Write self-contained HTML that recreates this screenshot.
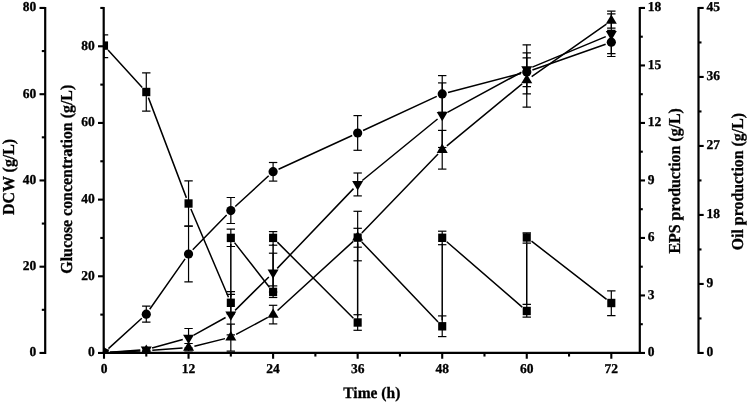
<!DOCTYPE html>
<html><head><meta charset="utf-8"><title>Fermentation time course</title>
<style>
html,body{margin:0;padding:0;background:#fff;}
body{width:749px;height:403px;overflow:hidden;}
svg{display:block;}
text{font-family:"Liberation Serif","DejaVu Serif",serif;font-weight:bold;fill:#000;text-rendering:geometricPrecision;}
.tk{font-size:13.5px;stroke:#000;stroke-width:0.3px;}
.tt{font-size:15.9px;stroke:#000;stroke-width:0.3px;}
</style></head><body>
<svg width="749" height="403" viewBox="0 0 749 403">
<defs><clipPath id="pc"><rect x="103.7" y="0" width="576.0999999999999" height="352.95"/></clipPath></defs>
<rect width="749" height="403" fill="#fff"/>
<line x1="45.20" y1="6.90" x2="45.20" y2="354.05" stroke="#000" stroke-width="2.2" />
<line x1="45.20" y1="352.95" x2="39.50" y2="352.95" stroke="#000" stroke-width="2.1" />
<text x="36.20" y="356.45" text-anchor="end" class="tk">0</text>
<line x1="45.20" y1="266.70" x2="39.50" y2="266.70" stroke="#000" stroke-width="2.1" />
<text x="36.20" y="270.20" text-anchor="end" class="tk">20</text>
<line x1="45.20" y1="180.45" x2="39.50" y2="180.45" stroke="#000" stroke-width="2.1" />
<text x="36.20" y="183.95" text-anchor="end" class="tk">40</text>
<line x1="45.20" y1="94.20" x2="39.50" y2="94.20" stroke="#000" stroke-width="2.1" />
<text x="36.20" y="97.70" text-anchor="end" class="tk">60</text>
<line x1="45.20" y1="7.95" x2="39.50" y2="7.95" stroke="#000" stroke-width="2.1" />
<text x="36.20" y="11.45" text-anchor="end" class="tk">80</text>
<line x1="45.20" y1="309.82" x2="41.80" y2="309.82" stroke="#000" stroke-width="2.1" />
<line x1="45.20" y1="223.57" x2="41.80" y2="223.57" stroke="#000" stroke-width="2.1" />
<line x1="45.20" y1="137.32" x2="41.80" y2="137.32" stroke="#000" stroke-width="2.1" />
<line x1="45.20" y1="51.07" x2="41.80" y2="51.07" stroke="#000" stroke-width="2.1" />
<line x1="103.70" y1="6.90" x2="103.70" y2="354.05" stroke="#000" stroke-width="2.2" />
<line x1="103.70" y1="352.95" x2="98.00" y2="352.95" stroke="#000" stroke-width="2.1" />
<text x="94.70" y="356.45" text-anchor="end" class="tk">0</text>
<line x1="103.70" y1="276.28" x2="98.00" y2="276.28" stroke="#000" stroke-width="2.1" />
<text x="94.70" y="279.78" text-anchor="end" class="tk">20</text>
<line x1="103.70" y1="199.62" x2="98.00" y2="199.62" stroke="#000" stroke-width="2.1" />
<text x="94.70" y="203.12" text-anchor="end" class="tk">40</text>
<line x1="103.70" y1="122.95" x2="98.00" y2="122.95" stroke="#000" stroke-width="2.1" />
<text x="94.70" y="126.45" text-anchor="end" class="tk">60</text>
<line x1="103.70" y1="46.28" x2="98.00" y2="46.28" stroke="#000" stroke-width="2.1" />
<text x="94.70" y="49.78" text-anchor="end" class="tk">80</text>
<line x1="103.70" y1="314.62" x2="100.30" y2="314.62" stroke="#000" stroke-width="2.1" />
<line x1="103.70" y1="237.95" x2="100.30" y2="237.95" stroke="#000" stroke-width="2.1" />
<line x1="103.70" y1="161.28" x2="100.30" y2="161.28" stroke="#000" stroke-width="2.1" />
<line x1="103.70" y1="84.62" x2="100.30" y2="84.62" stroke="#000" stroke-width="2.1" />
<line x1="103.70" y1="7.95" x2="100.30" y2="7.95" stroke="#000" stroke-width="2.1" />
<line x1="639.80" y1="6.90" x2="639.80" y2="354.05" stroke="#000" stroke-width="2.2" />
<line x1="639.80" y1="352.95" x2="645.00" y2="352.95" stroke="#000" stroke-width="2.1" />
<text x="647.80" y="356.45" text-anchor="start" class="tk">0</text>
<line x1="639.80" y1="295.45" x2="645.00" y2="295.45" stroke="#000" stroke-width="2.1" />
<text x="647.80" y="298.95" text-anchor="start" class="tk">3</text>
<line x1="639.80" y1="237.95" x2="645.00" y2="237.95" stroke="#000" stroke-width="2.1" />
<text x="647.80" y="241.45" text-anchor="start" class="tk">6</text>
<line x1="639.80" y1="180.45" x2="645.00" y2="180.45" stroke="#000" stroke-width="2.1" />
<text x="647.80" y="183.95" text-anchor="start" class="tk">9</text>
<line x1="639.80" y1="122.95" x2="645.00" y2="122.95" stroke="#000" stroke-width="2.1" />
<text x="647.80" y="126.45" text-anchor="start" class="tk">12</text>
<line x1="639.80" y1="65.45" x2="645.00" y2="65.45" stroke="#000" stroke-width="2.1" />
<text x="647.80" y="68.95" text-anchor="start" class="tk">15</text>
<line x1="639.80" y1="7.95" x2="645.00" y2="7.95" stroke="#000" stroke-width="2.1" />
<text x="647.80" y="11.45" text-anchor="start" class="tk">18</text>
<line x1="639.80" y1="324.20" x2="642.80" y2="324.20" stroke="#000" stroke-width="2.1" />
<line x1="639.80" y1="266.70" x2="642.80" y2="266.70" stroke="#000" stroke-width="2.1" />
<line x1="639.80" y1="209.20" x2="642.80" y2="209.20" stroke="#000" stroke-width="2.1" />
<line x1="639.80" y1="151.70" x2="642.80" y2="151.70" stroke="#000" stroke-width="2.1" />
<line x1="639.80" y1="94.20" x2="642.80" y2="94.20" stroke="#000" stroke-width="2.1" />
<line x1="639.80" y1="36.70" x2="642.80" y2="36.70" stroke="#000" stroke-width="2.1" />
<line x1="698.50" y1="6.90" x2="698.50" y2="354.05" stroke="#000" stroke-width="2.2" />
<line x1="698.50" y1="352.95" x2="703.70" y2="352.95" stroke="#000" stroke-width="2.1" />
<text x="706.50" y="356.45" text-anchor="start" class="tk">0</text>
<line x1="698.50" y1="283.95" x2="703.70" y2="283.95" stroke="#000" stroke-width="2.1" />
<text x="706.50" y="287.45" text-anchor="start" class="tk">9</text>
<line x1="698.50" y1="214.95" x2="703.70" y2="214.95" stroke="#000" stroke-width="2.1" />
<text x="706.50" y="218.45" text-anchor="start" class="tk">18</text>
<line x1="698.50" y1="145.95" x2="703.70" y2="145.95" stroke="#000" stroke-width="2.1" />
<text x="706.50" y="149.45" text-anchor="start" class="tk">27</text>
<line x1="698.50" y1="76.95" x2="703.70" y2="76.95" stroke="#000" stroke-width="2.1" />
<text x="706.50" y="80.45" text-anchor="start" class="tk">36</text>
<line x1="698.50" y1="7.95" x2="703.70" y2="7.95" stroke="#000" stroke-width="2.1" />
<text x="706.50" y="11.45" text-anchor="start" class="tk">45</text>
<line x1="698.50" y1="318.45" x2="701.50" y2="318.45" stroke="#000" stroke-width="2.1" />
<line x1="698.50" y1="249.45" x2="701.50" y2="249.45" stroke="#000" stroke-width="2.1" />
<line x1="698.50" y1="180.45" x2="701.50" y2="180.45" stroke="#000" stroke-width="2.1" />
<line x1="698.50" y1="111.45" x2="701.50" y2="111.45" stroke="#000" stroke-width="2.1" />
<line x1="698.50" y1="42.45" x2="701.50" y2="42.45" stroke="#000" stroke-width="2.1" />
<line x1="102.60" y1="352.95" x2="640.90" y2="352.95" stroke="#000" stroke-width="2.2" />
<line x1="104.00" y1="352.95" x2="104.00" y2="358.75" stroke="#000" stroke-width="2.1" />
<text x="104.00" y="372.65" text-anchor="middle" class="tk">0</text>
<line x1="188.55" y1="352.95" x2="188.55" y2="358.75" stroke="#000" stroke-width="2.1" />
<text x="188.55" y="372.65" text-anchor="middle" class="tk">12</text>
<line x1="273.10" y1="352.95" x2="273.10" y2="358.75" stroke="#000" stroke-width="2.1" />
<text x="273.10" y="372.65" text-anchor="middle" class="tk">24</text>
<line x1="357.66" y1="352.95" x2="357.66" y2="358.75" stroke="#000" stroke-width="2.1" />
<text x="357.66" y="372.65" text-anchor="middle" class="tk">36</text>
<line x1="442.21" y1="352.95" x2="442.21" y2="358.75" stroke="#000" stroke-width="2.1" />
<text x="442.21" y="372.65" text-anchor="middle" class="tk">48</text>
<line x1="526.76" y1="352.95" x2="526.76" y2="358.75" stroke="#000" stroke-width="2.1" />
<text x="526.76" y="372.65" text-anchor="middle" class="tk">60</text>
<line x1="611.31" y1="352.95" x2="611.31" y2="358.75" stroke="#000" stroke-width="2.1" />
<text x="611.31" y="372.65" text-anchor="middle" class="tk">72</text>
<line x1="146.28" y1="352.95" x2="146.28" y2="356.55" stroke="#000" stroke-width="2.1" />
<line x1="230.83" y1="352.95" x2="230.83" y2="356.55" stroke="#000" stroke-width="2.1" />
<line x1="315.38" y1="352.95" x2="315.38" y2="356.55" stroke="#000" stroke-width="2.1" />
<line x1="399.93" y1="352.95" x2="399.93" y2="356.55" stroke="#000" stroke-width="2.1" />
<line x1="484.48" y1="352.95" x2="484.48" y2="356.55" stroke="#000" stroke-width="2.1" />
<line x1="569.04" y1="352.95" x2="569.04" y2="356.55" stroke="#000" stroke-width="2.1" />
<text transform="translate(13.6,176.9) rotate(-90) scale(1,1.05)" text-anchor="middle" class="tt">DCW (g/L)</text>
<text transform="translate(72.0,179.25) rotate(-90) scale(1,1.05)" text-anchor="middle" class="tt">Glucose concentration (g/L)</text>
<text transform="translate(680,180.8) rotate(-90) scale(1,1.05)" text-anchor="middle" class="tt">EPS production (g/L)</text>
<text transform="translate(743.1,181.6) rotate(-90) scale(1,1.05)" text-anchor="middle" class="tt">Oil production (g/L)</text>
<text transform="translate(371.8,398.1) scale(1,1.03)" text-anchor="middle" class="tt" style="font-size:15.5px">Time (h)</text>
<g clip-path="url(#pc)">
<path d="M108.04 50.04L142.24 87.56M148.40 97.61L186.42 197.89M190.90 209.02L228.48 297.28M230.83 296.80L230.83 243.90M234.53 242.62L269.41 287.18M273.10 285.90L273.10 243.90M277.35 242.14L353.41 318.26M357.66 316.50L357.66 243.60M361.80 241.94L438.07 321.96M442.21 320.30L442.21 243.80M446.74 241.73L522.22 307.07M526.76 305.00L526.76 243.45M531.50 241.13L606.57 299.32" fill="none" stroke="#000" stroke-width="1.5"/>
<line x1="104.00" y1="34.90" x2="104.00" y2="57.70" stroke="#000" stroke-width="1.2" />
<line x1="99.80" y1="34.90" x2="108.20" y2="34.90" stroke="#000" stroke-width="1.2" />
<line x1="99.80" y1="57.70" x2="108.20" y2="57.70" stroke="#000" stroke-width="1.2" />
<line x1="146.28" y1="72.90" x2="146.28" y2="111.10" stroke="#000" stroke-width="1.2" />
<line x1="142.08" y1="72.90" x2="150.48" y2="72.90" stroke="#000" stroke-width="1.2" />
<line x1="142.08" y1="111.10" x2="150.48" y2="111.10" stroke="#000" stroke-width="1.2" />
<line x1="188.55" y1="180.90" x2="188.55" y2="226.20" stroke="#000" stroke-width="1.2" />
<line x1="184.35" y1="180.90" x2="192.75" y2="180.90" stroke="#000" stroke-width="1.2" />
<line x1="184.35" y1="226.20" x2="192.75" y2="226.20" stroke="#000" stroke-width="1.2" />
<line x1="230.83" y1="291.70" x2="230.83" y2="313.80" stroke="#000" stroke-width="1.2" />
<line x1="226.63" y1="291.70" x2="235.03" y2="291.70" stroke="#000" stroke-width="1.2" />
<line x1="226.63" y1="313.80" x2="235.03" y2="313.80" stroke="#000" stroke-width="1.2" />
<line x1="230.83" y1="229.10" x2="230.83" y2="246.50" stroke="#000" stroke-width="1.2" />
<line x1="226.63" y1="229.10" x2="235.03" y2="229.10" stroke="#000" stroke-width="1.2" />
<line x1="226.63" y1="246.50" x2="235.03" y2="246.50" stroke="#000" stroke-width="1.2" />
<line x1="273.10" y1="285.90" x2="273.10" y2="297.50" stroke="#000" stroke-width="1.2" />
<line x1="268.90" y1="285.90" x2="277.30" y2="285.90" stroke="#000" stroke-width="1.2" />
<line x1="268.90" y1="297.50" x2="277.30" y2="297.50" stroke="#000" stroke-width="1.2" />
<line x1="273.10" y1="231.60" x2="273.10" y2="245.20" stroke="#000" stroke-width="1.2" />
<line x1="268.90" y1="231.60" x2="277.30" y2="231.60" stroke="#000" stroke-width="1.2" />
<line x1="268.90" y1="245.20" x2="277.30" y2="245.20" stroke="#000" stroke-width="1.2" />
<line x1="357.66" y1="314.70" x2="357.66" y2="330.30" stroke="#000" stroke-width="1.2" />
<line x1="353.46" y1="314.70" x2="361.86" y2="314.70" stroke="#000" stroke-width="1.2" />
<line x1="353.46" y1="330.30" x2="361.86" y2="330.30" stroke="#000" stroke-width="1.2" />
<line x1="357.66" y1="228.30" x2="357.66" y2="247.20" stroke="#000" stroke-width="1.2" />
<line x1="353.46" y1="228.30" x2="361.86" y2="228.30" stroke="#000" stroke-width="1.2" />
<line x1="353.46" y1="247.20" x2="361.86" y2="247.20" stroke="#000" stroke-width="1.2" />
<line x1="442.21" y1="315.90" x2="442.21" y2="336.60" stroke="#000" stroke-width="1.2" />
<line x1="438.01" y1="315.90" x2="446.41" y2="315.90" stroke="#000" stroke-width="1.2" />
<line x1="438.01" y1="336.60" x2="446.41" y2="336.60" stroke="#000" stroke-width="1.2" />
<line x1="442.21" y1="231.20" x2="442.21" y2="244.70" stroke="#000" stroke-width="1.2" />
<line x1="438.01" y1="231.20" x2="446.41" y2="231.20" stroke="#000" stroke-width="1.2" />
<line x1="438.01" y1="244.70" x2="446.41" y2="244.70" stroke="#000" stroke-width="1.2" />
<line x1="526.76" y1="304.40" x2="526.76" y2="317.10" stroke="#000" stroke-width="1.2" />
<line x1="522.56" y1="304.40" x2="530.96" y2="304.40" stroke="#000" stroke-width="1.2" />
<line x1="522.56" y1="317.10" x2="530.96" y2="317.10" stroke="#000" stroke-width="1.2" />
<line x1="526.76" y1="232.90" x2="526.76" y2="243.20" stroke="#000" stroke-width="1.2" />
<line x1="522.56" y1="232.90" x2="530.96" y2="232.90" stroke="#000" stroke-width="1.2" />
<line x1="522.56" y1="243.20" x2="530.96" y2="243.20" stroke="#000" stroke-width="1.2" />
<line x1="611.31" y1="290.90" x2="611.31" y2="315.60" stroke="#000" stroke-width="1.2" />
<line x1="607.11" y1="290.90" x2="615.51" y2="290.90" stroke="#000" stroke-width="1.2" />
<line x1="607.11" y1="315.60" x2="615.51" y2="315.60" stroke="#000" stroke-width="1.2" />
<rect x="99.95" y="41.40" width="8.1" height="8.4" fill="#000"/>
<rect x="142.23" y="87.80" width="8.1" height="8.4" fill="#000"/>
<rect x="184.50" y="199.30" width="8.1" height="8.4" fill="#000"/>
<rect x="226.78" y="298.60" width="8.1" height="8.4" fill="#000"/>
<rect x="226.78" y="233.70" width="8.1" height="8.4" fill="#000"/>
<rect x="269.05" y="287.70" width="8.1" height="8.4" fill="#000"/>
<rect x="269.05" y="233.70" width="8.1" height="8.4" fill="#000"/>
<rect x="353.61" y="318.30" width="8.1" height="8.4" fill="#000"/>
<rect x="353.61" y="233.40" width="8.1" height="8.4" fill="#000"/>
<rect x="438.16" y="322.10" width="8.1" height="8.4" fill="#000"/>
<rect x="438.16" y="233.60" width="8.1" height="8.4" fill="#000"/>
<rect x="522.71" y="306.80" width="8.1" height="8.4" fill="#000"/>
<rect x="522.71" y="233.25" width="8.1" height="8.4" fill="#000"/>
<rect x="607.26" y="298.80" width="8.1" height="8.4" fill="#000"/>
<path d="M108.44 348.57L141.83 318.23M149.72 309.29L185.10 258.91M192.74 249.70L226.64 214.90M235.24 206.54L268.69 175.76M278.56 169.20L352.20 135.50M363.10 130.48L436.76 96.42M448.02 92.40L520.95 73.50M532.42 70.01L605.65 44.19" fill="none" stroke="#000" stroke-width="1.5"/>
<line x1="146.28" y1="306.10" x2="146.28" y2="322.20" stroke="#000" stroke-width="1.2" />
<line x1="142.08" y1="306.10" x2="150.48" y2="306.10" stroke="#000" stroke-width="1.2" />
<line x1="142.08" y1="322.20" x2="150.48" y2="322.20" stroke="#000" stroke-width="1.2" />
<line x1="188.55" y1="226.20" x2="188.55" y2="281.90" stroke="#000" stroke-width="1.2" />
<line x1="184.35" y1="226.20" x2="192.75" y2="226.20" stroke="#000" stroke-width="1.2" />
<line x1="184.35" y1="281.90" x2="192.75" y2="281.90" stroke="#000" stroke-width="1.2" />
<line x1="230.83" y1="197.50" x2="230.83" y2="223.50" stroke="#000" stroke-width="1.2" />
<line x1="226.63" y1="197.50" x2="235.03" y2="197.50" stroke="#000" stroke-width="1.2" />
<line x1="226.63" y1="223.50" x2="235.03" y2="223.50" stroke="#000" stroke-width="1.2" />
<line x1="273.10" y1="162.50" x2="273.10" y2="181.10" stroke="#000" stroke-width="1.2" />
<line x1="268.90" y1="162.50" x2="277.30" y2="162.50" stroke="#000" stroke-width="1.2" />
<line x1="268.90" y1="181.10" x2="277.30" y2="181.10" stroke="#000" stroke-width="1.2" />
<line x1="357.66" y1="115.60" x2="357.66" y2="150.30" stroke="#000" stroke-width="1.2" />
<line x1="353.46" y1="115.60" x2="361.86" y2="115.60" stroke="#000" stroke-width="1.2" />
<line x1="353.46" y1="150.30" x2="361.86" y2="150.30" stroke="#000" stroke-width="1.2" />
<line x1="442.21" y1="75.60" x2="442.21" y2="112.20" stroke="#000" stroke-width="1.2" />
<line x1="438.01" y1="75.60" x2="446.41" y2="75.60" stroke="#000" stroke-width="1.2" />
<line x1="438.01" y1="112.20" x2="446.41" y2="112.20" stroke="#000" stroke-width="1.2" />
<line x1="526.76" y1="57.80" x2="526.76" y2="86.60" stroke="#000" stroke-width="1.2" />
<line x1="522.56" y1="57.80" x2="530.96" y2="57.80" stroke="#000" stroke-width="1.2" />
<line x1="522.56" y1="86.60" x2="530.96" y2="86.60" stroke="#000" stroke-width="1.2" />
<line x1="611.31" y1="30.30" x2="611.31" y2="53.60" stroke="#000" stroke-width="1.2" />
<line x1="607.11" y1="30.30" x2="615.51" y2="30.30" stroke="#000" stroke-width="1.2" />
<line x1="607.11" y1="53.60" x2="615.51" y2="53.60" stroke="#000" stroke-width="1.2" />
<circle cx="104.00" cy="352.60" r="4.6" fill="#000"/>
<circle cx="146.28" cy="314.20" r="4.6" fill="#000"/>
<circle cx="188.55" cy="254.00" r="4.6" fill="#000"/>
<circle cx="230.83" cy="210.60" r="4.6" fill="#000"/>
<circle cx="273.10" cy="171.70" r="4.6" fill="#000"/>
<circle cx="357.66" cy="133.00" r="4.6" fill="#000"/>
<circle cx="442.21" cy="93.90" r="4.6" fill="#000"/>
<circle cx="526.76" cy="72.00" r="4.6" fill="#000"/>
<circle cx="611.31" cy="42.20" r="4.6" fill="#000"/>
<path d="M109.99 352.32L140.28 350.88M152.26 350.18L182.57 348.02M194.38 346.17L225.00 338.63M236.12 334.37L267.81 317.43M277.53 310.55L353.23 241.35M361.82 232.98L438.04 154.02M446.84 145.88L522.13 83.82M531.67 76.55L606.40 24.05" fill="none" stroke="#000" stroke-width="1.5"/>
<line x1="146.28" y1="350.00" x2="146.28" y2="351.00" stroke="#000" stroke-width="1.2" />
<line x1="142.08" y1="350.00" x2="150.48" y2="350.00" stroke="#000" stroke-width="1.2" />
<line x1="142.08" y1="351.00" x2="150.48" y2="351.00" stroke="#000" stroke-width="1.2" />
<line x1="188.55" y1="343.50" x2="188.55" y2="351.00" stroke="#000" stroke-width="1.2" />
<line x1="184.35" y1="343.50" x2="192.75" y2="343.50" stroke="#000" stroke-width="1.2" />
<line x1="184.35" y1="351.00" x2="192.75" y2="351.00" stroke="#000" stroke-width="1.2" />
<line x1="230.83" y1="324.20" x2="230.83" y2="351.10" stroke="#000" stroke-width="1.2" />
<line x1="226.63" y1="324.20" x2="235.03" y2="324.20" stroke="#000" stroke-width="1.2" />
<line x1="226.63" y1="351.10" x2="235.03" y2="351.10" stroke="#000" stroke-width="1.2" />
<line x1="273.10" y1="305.30" x2="273.10" y2="323.90" stroke="#000" stroke-width="1.2" />
<line x1="268.90" y1="305.30" x2="277.30" y2="305.30" stroke="#000" stroke-width="1.2" />
<line x1="268.90" y1="323.90" x2="277.30" y2="323.90" stroke="#000" stroke-width="1.2" />
<line x1="357.66" y1="211.30" x2="357.66" y2="260.80" stroke="#000" stroke-width="1.2" />
<line x1="353.46" y1="211.30" x2="361.86" y2="211.30" stroke="#000" stroke-width="1.2" />
<line x1="353.46" y1="260.80" x2="361.86" y2="260.80" stroke="#000" stroke-width="1.2" />
<line x1="442.21" y1="130.40" x2="442.21" y2="169.10" stroke="#000" stroke-width="1.2" />
<line x1="438.01" y1="130.40" x2="446.41" y2="130.40" stroke="#000" stroke-width="1.2" />
<line x1="438.01" y1="169.10" x2="446.41" y2="169.10" stroke="#000" stroke-width="1.2" />
<line x1="526.76" y1="52.90" x2="526.76" y2="107.20" stroke="#000" stroke-width="1.2" />
<line x1="522.56" y1="52.90" x2="530.96" y2="52.90" stroke="#000" stroke-width="1.2" />
<line x1="522.56" y1="107.20" x2="530.96" y2="107.20" stroke="#000" stroke-width="1.2" />
<line x1="611.31" y1="13.90" x2="611.31" y2="28.20" stroke="#000" stroke-width="1.2" />
<line x1="607.11" y1="13.90" x2="615.51" y2="13.90" stroke="#000" stroke-width="1.2" />
<line x1="607.11" y1="28.20" x2="615.51" y2="28.20" stroke="#000" stroke-width="1.2" />
<polygon points="104.00,346.50 98.50,355.80 109.50,355.80" fill="#000"/>
<polygon points="146.28,344.50 140.78,353.80 151.78,353.80" fill="#000"/>
<polygon points="188.55,341.50 183.05,350.80 194.05,350.80" fill="#000"/>
<polygon points="230.83,331.10 225.33,340.40 236.33,340.40" fill="#000"/>
<polygon points="273.10,308.50 267.60,317.80 278.60,317.80" fill="#000"/>
<polygon points="357.66,231.20 352.16,240.50 363.16,240.50" fill="#000"/>
<polygon points="442.21,143.60 436.71,152.90 447.71,152.90" fill="#000"/>
<polygon points="526.76,73.90 521.26,83.20 532.26,83.20" fill="#000"/>
<polygon points="611.31,14.50 605.81,23.80 616.81,23.80" fill="#000"/>
<path d="M109.98 352.18L140.29 350.02M152.06 348.01L182.77 339.59M193.80 335.09L225.58 317.51M235.09 310.38L268.84 276.92M277.25 268.36L353.51 188.64M362.30 180.50L437.56 119.00M447.48 112.34L521.48 72.26M532.30 67.10L605.77 36.60" fill="none" stroke="#000" stroke-width="1.5"/>
<line x1="146.28" y1="348.00" x2="146.28" y2="351.00" stroke="#000" stroke-width="1.2" />
<line x1="142.08" y1="348.00" x2="150.48" y2="348.00" stroke="#000" stroke-width="1.2" />
<line x1="142.08" y1="351.00" x2="150.48" y2="351.00" stroke="#000" stroke-width="1.2" />
<line x1="188.55" y1="328.50" x2="188.55" y2="348.00" stroke="#000" stroke-width="1.2" />
<line x1="184.35" y1="328.50" x2="192.75" y2="328.50" stroke="#000" stroke-width="1.2" />
<line x1="184.35" y1="348.00" x2="192.75" y2="348.00" stroke="#000" stroke-width="1.2" />
<line x1="230.83" y1="294.30" x2="230.83" y2="334.90" stroke="#000" stroke-width="1.2" />
<line x1="226.63" y1="294.30" x2="235.03" y2="294.30" stroke="#000" stroke-width="1.2" />
<line x1="226.63" y1="334.90" x2="235.03" y2="334.90" stroke="#000" stroke-width="1.2" />
<line x1="273.10" y1="253.20" x2="273.10" y2="292.00" stroke="#000" stroke-width="1.2" />
<line x1="268.90" y1="253.20" x2="277.30" y2="253.20" stroke="#000" stroke-width="1.2" />
<line x1="268.90" y1="292.00" x2="277.30" y2="292.00" stroke="#000" stroke-width="1.2" />
<line x1="357.66" y1="173.00" x2="357.66" y2="195.90" stroke="#000" stroke-width="1.2" />
<line x1="353.46" y1="173.00" x2="361.86" y2="173.00" stroke="#000" stroke-width="1.2" />
<line x1="353.46" y1="195.90" x2="361.86" y2="195.90" stroke="#000" stroke-width="1.2" />
<line x1="442.21" y1="82.90" x2="442.21" y2="147.50" stroke="#000" stroke-width="1.2" />
<line x1="438.01" y1="82.90" x2="446.41" y2="82.90" stroke="#000" stroke-width="1.2" />
<line x1="438.01" y1="147.50" x2="446.41" y2="147.50" stroke="#000" stroke-width="1.2" />
<line x1="526.76" y1="44.80" x2="526.76" y2="93.90" stroke="#000" stroke-width="1.2" />
<line x1="522.56" y1="44.80" x2="530.96" y2="44.80" stroke="#000" stroke-width="1.2" />
<line x1="522.56" y1="93.90" x2="530.96" y2="93.90" stroke="#000" stroke-width="1.2" />
<line x1="611.31" y1="11.20" x2="611.31" y2="56.50" stroke="#000" stroke-width="1.2" />
<line x1="607.11" y1="11.20" x2="615.51" y2="11.20" stroke="#000" stroke-width="1.2" />
<line x1="607.11" y1="56.50" x2="615.51" y2="56.50" stroke="#000" stroke-width="1.2" />
<polygon points="104.00,358.70 98.50,349.40 109.50,349.40" fill="#000"/>
<polygon points="146.28,355.70 140.78,346.40 151.78,346.40" fill="#000"/>
<polygon points="188.55,344.10 183.05,334.80 194.05,334.80" fill="#000"/>
<polygon points="230.83,320.70 225.33,311.40 236.33,311.40" fill="#000"/>
<polygon points="273.10,278.80 267.60,269.50 278.60,269.50" fill="#000"/>
<polygon points="357.66,190.40 352.16,181.10 363.16,181.10" fill="#000"/>
<polygon points="442.21,121.30 436.71,112.00 447.71,112.00" fill="#000"/>
<polygon points="526.76,75.50 521.26,66.20 532.26,66.20" fill="#000"/>
<polygon points="611.31,40.40 605.81,31.10 616.81,31.10" fill="#000"/>
</g>
</svg>
</body></html>
